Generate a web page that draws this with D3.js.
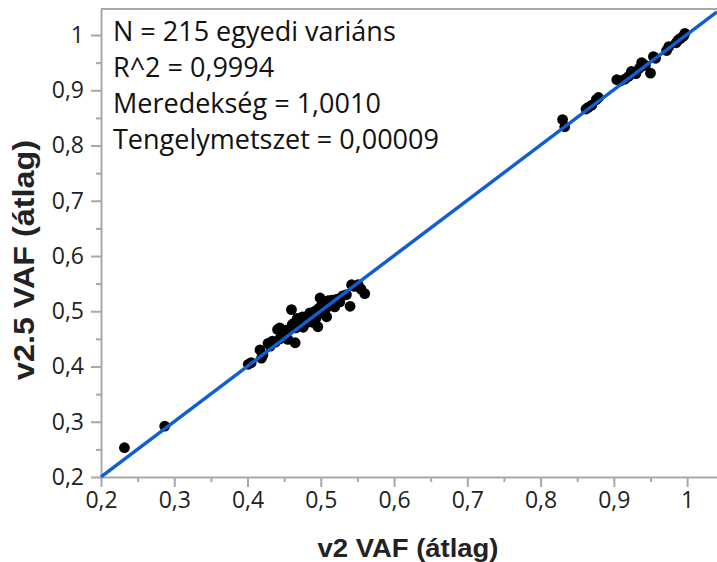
<!DOCTYPE html>
<html><head><meta charset="utf-8">
<script src="https://cdn.jsdelivr.net/npm/d3@7"></script>
<style>body{margin:0;background:#fff}svg{display:block;font-family:"Open Sans",sans-serif}</style>
</head><body><svg id="c" width="717" height="562"></svg>
<script>
const xValues = [0.232,0.287,
0.401,0.405,0.417,0.419,0.421,0.428,0.431,0.434,0.438,0.441,0.444,0.447,0.449,0.452,0.455,0.457,0.460,0.461,0.463,0.465,0.466,0.468,0.470,0.472,0.475,0.478,0.480,0.483,0.485,0.488,0.490,0.492,0.494,0.496,0.497,0.499,0.501,0.503,0.505,0.508,0.510,0.512,0.515,0.519,0.522,0.526,0.530,0.535,0.540,0.542,0.546,0.551,0.555,0.560,0.444,0.452,0.458,0.476,0.486,0.493,0.500,0.507,
0.830,0.833,0.862,0.865,0.870,0.876,0.879,0.904,0.909,0.915,0.920,0.924,0.930,0.935,0.938,0.943,0.950,0.954,0.957,0.972,0.975,0.985,0.988,0.991,0.995,0.997];
const yValues = [0.253,0.292,
0.404,0.407,0.430,0.415,0.421,0.442,0.437,0.446,0.444,0.467,0.470,0.458,0.462,0.466,0.449,0.466,0.503,0.476,0.478,0.443,0.470,0.487,0.482,0.476,0.490,0.485,0.479,0.492,0.497,0.495,0.480,0.500,0.489,0.472,0.505,0.524,0.510,0.516,0.500,0.490,0.519,0.511,0.520,0.508,0.522,0.517,0.528,0.530,0.509,0.548,0.545,0.548,0.540,0.532,0.450,0.455,0.468,0.471,0.481,0.487,0.499,0.505,
0.847,0.834,0.866,0.869,0.873,0.883,0.887,0.919,0.917,0.920,0.925,0.934,0.930,0.940,0.950,0.945,0.931,0.961,0.958,0.972,0.979,0.986,0.991,0.994,0.998,1.003];
const xTicks = [0.2,0.3,0.4,0.5,0.6,0.7,0.8,0.9,1];
const yTicks = [0.2,0.3,0.4,0.5,0.6,0.7,0.8,0.9,1];
const slope = 1.0010, intercept = 0.00009;
const annotations = ["N = 215 egyedi variáns","R^2 = 0,9994","Meredekség = 1,0010","Tengelymetszet = 0,00009"];
const xTitle = "v2 VAF (átlag)", yTitle = "v2.5 VAF (átlag)";

const svg = d3.select("#c");
const L=101, T=9, R=717, B=477;
const x = d3.scaleLinear().domain([0.2,1.0408]).range([L,R]);
const y = d3.scaleLinear().domain([0.2,1.0471]).range([B,T]);
const fmt = v => d3.format(".1f")(v).replace(/\.0$/,"").replace(".",",");
const gray="#a8a8a8";

svg.append("line").attr("x1",L).attr("x2",R).attr("y1",T).attr("y2",T).attr("stroke",gray).attr("stroke-width",2);

const minorX = xTicks.map(v=>v+0.05).filter(v=>v<1.04);
const minorY = yTicks.slice(0,-1).map(v=>v+0.05);

svg.append("g").attr("transform",`translate(0,${B})`)
  .call(d3.axisBottom(x).tickValues(xTicks).tickFormat(fmt).tickSize(10).tickSizeOuter(0).tickPadding(5));
svg.append("g").attr("transform",`translate(0,${B})`)
  .call(d3.axisBottom(x).tickValues(minorX).tickFormat("").tickSize(5).tickSizeOuter(0))
  .select(".domain").remove();
svg.append("g").attr("transform",`translate(${L},0)`)
  .call(d3.axisLeft(y).tickValues(yTicks).tickFormat(fmt).tickSize(10).tickSizeOuter(0).tickPadding(7));
svg.append("g").attr("transform",`translate(${L},0)`)
  .call(d3.axisLeft(y).tickValues(minorY).tickFormat("").tickSize(5).tickSizeOuter(0))
  .select(".domain").remove();
svg.selectAll(".domain").attr("stroke",gray).attr("stroke-width",2);
svg.selectAll(".tick line").attr("stroke",gray).attr("stroke-width",2);
svg.selectAll(".tick text").attr("font-size",23).attr("fill","#222").attr("font-family","'Open Sans',sans-serif");

const pts = xValues.map((v,i)=>[v,yValues[i]]);
svg.append("g").selectAll("circle").data(pts).join("circle")
  .attr("cx",d=>x(d[0])).attr("cy",d=>y(d[1])).attr("r",5.4).attr("fill","#000");

const x0=0.2, x1=x.domain()[1];
svg.append("line").attr("x1",x(x0)).attr("y1",y(slope*x0+intercept))
  .attr("x2",x(x1)).attr("y2",y(slope*x1+intercept))
  .attr("stroke","#0f5fd3").attr("stroke-width",3.5);

svg.append("g").selectAll("text").data(annotations).join("text")
  .attr("x",113).attr("y",(d,i)=>41+i*36).attr("font-size",27).attr("fill","#111").text(d=>d);

svg.append("text").attr("x",408).attr("y",557).attr("text-anchor","middle")
  .attr("font-family","'Liberation Sans',Arial,sans-serif")
  .attr("font-size",25).attr("font-weight","bold").attr("fill","#222")
  .attr("textLength",181).attr("lengthAdjust","spacingAndGlyphs").text(xTitle);
svg.append("text").attr("transform","translate(34,260) rotate(-90)").attr("text-anchor","middle")
  .attr("font-family","'Liberation Sans',Arial,sans-serif")
  .attr("font-size",29).attr("font-weight","bold").attr("fill","#222")
  .attr("textLength",240).attr("lengthAdjust","spacingAndGlyphs").text(yTitle);
</script></body></html>
